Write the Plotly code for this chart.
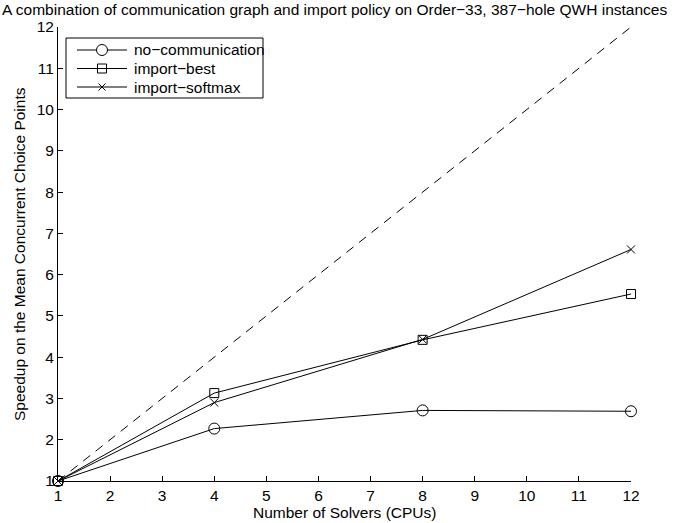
import plotly.graph_objects as go

solvers = [1, 4, 8, 12]
no_comm = [1.0, 2.27, 2.71, 2.69]
import_best = [1.0, 3.13, 4.42, 5.53]
import_softmax = [1.0, 2.90, 4.43, 6.61]
ideal_x = [1, 12]
ideal_y = [1, 12]
ticks = list(range(1, 13))
series_names = ["no\u2212communication", "import\u2212best", "import\u2212softmax"]

FONT = "Liberation Sans, Arial, Helvetica, sans-serif"
FS = 15.5

L, R, T, B = 58, 48, 27, 42
WIDTH, HEIGHT = 679, 523
W = float(WIDTH - L - R)
H = float(HEIGHT - T - B)
BOTTOM = HEIGHT - B

def px(x):
    return (x - L) / W
def py(y):
    return (BOTTOM - y) / H

fig = go.Figure()
fig.add_trace(go.Scatter(x=ideal_x, y=ideal_y, mode="lines",
                         line=dict(color="black", width=1, dash="9px,7px"),
                         showlegend=False, hoverinfo="skip"))
fig.add_trace(go.Scatter(x=solvers, y=no_comm, mode="lines+markers", name=series_names[0],
                         line=dict(color="black", width=1),
                         marker=dict(symbol="circle-open", size=11, color="black", line=dict(width=1)),
                         cliponaxis=False, showlegend=False))
fig.add_trace(go.Scatter(x=solvers, y=import_best, mode="lines+markers", name=series_names[1],
                         line=dict(color="black", width=1),
                         marker=dict(symbol="square-open", size=9, color="black", line=dict(width=1)),
                         cliponaxis=False, showlegend=False))
fig.add_trace(go.Scatter(x=solvers, y=import_softmax, mode="lines+markers", name=series_names[2],
                         line=dict(color="black", width=1),
                         marker=dict(symbol="x-thin-open", size=8, color="black", line=dict(width=1)),
                         cliponaxis=False, showlegend=False))

axis_common = dict(range=[1, 12], tickmode="array", tickvals=ticks, ticktext=[str(t) for t in ticks],
                   showgrid=False, zeroline=False, showline=True, linecolor="black", linewidth=1,
                   ticks="inside", ticklen=5, tickcolor="black", tickwidth=1,
                   tickfont=dict(family=FONT, size=FS, color="black"))

# --- compact MATLAB-style legend built from shapes + annotations (paper coords) ---
shapes = [dict(type="rect", xref="paper", yref="paper", x0=px(66), x1=px(263), y0=py(98), y1=py(38),
               line=dict(color="black", width=1), fillcolor="white", layer="above")]
annotations = []
rows = [50, 68.5, 87]
for i, (name, ry) in enumerate(zip(series_names, rows)):
    yy = py(ry)
    shapes.append(dict(type="line", xref="paper", yref="paper", x0=px(77), x1=px(127), y0=yy, y1=yy,
                       line=dict(color="black", width=1), layer="above"))
    cx = px(102)
    if i == 0:
        shapes.append(dict(type="circle", xref="paper", yref="paper", xsizemode="pixel", ysizemode="pixel",
                           xanchor=cx, yanchor=yy, x0=-5.5, x1=5.5, y0=-5.5, y1=5.5,
                           line=dict(color="black", width=1), fillcolor="white", layer="above"))
    elif i == 1:
        shapes.append(dict(type="rect", xref="paper", yref="paper", xsizemode="pixel", ysizemode="pixel",
                           xanchor=cx, yanchor=yy, x0=-4.5, x1=4.5, y0=-4.5, y1=4.5,
                           line=dict(color="black", width=1), fillcolor="rgba(0,0,0,0)", layer="above"))
    else:
        shapes.append(dict(type="path", xref="paper", yref="paper", xsizemode="pixel", ysizemode="pixel",
                           xanchor=cx, yanchor=yy, path="M-3.5,-3.5 L3.5,3.5 M-3.5,3.5 L3.5,-3.5",
                           line=dict(color="black", width=1), layer="above"))
    annotations.append(dict(text=name, xref="paper", yref="paper", x=px(132), y=yy, xanchor="left",
                            yanchor="middle", showarrow=False, font=dict(family=FONT, size=FS, color="black")))

annotations.append(dict(text="Number of Solvers (CPUs)", xref="paper", yref="paper", x=0.5, y=py(512),
                        xanchor="center", yanchor="middle", showarrow=False,
                        font=dict(family=FONT, size=FS, color="black")))
annotations.append(dict(text="Speedup on the Mean Concurrent Choice Points", xref="paper", yref="paper",
                        x=px(19), y=0.5, xanchor="center", yanchor="middle", textangle=-90, showarrow=False,
                        font=dict(family=FONT, size=FS, color="black")))

fig.update_layout(
    width=WIDTH, height=HEIGHT,
    margin=dict(l=L, r=R, t=T, b=B, autoexpand=False),
    paper_bgcolor="white", plot_bgcolor="white",
    font=dict(family=FONT, size=FS, color="black"),
    title=dict(text="A combination of communication graph and import policy on Order\u221233, 387\u2212hole QWH instances",
               x=0.003, xanchor="left", y=0.993, yanchor="top", font=dict(family=FONT, size=FS, color="black")),
    xaxis=axis_common,
    yaxis=axis_common,
    shapes=shapes,
    annotations=annotations,
    showlegend=False,
)

fig.write_html("out.html")
